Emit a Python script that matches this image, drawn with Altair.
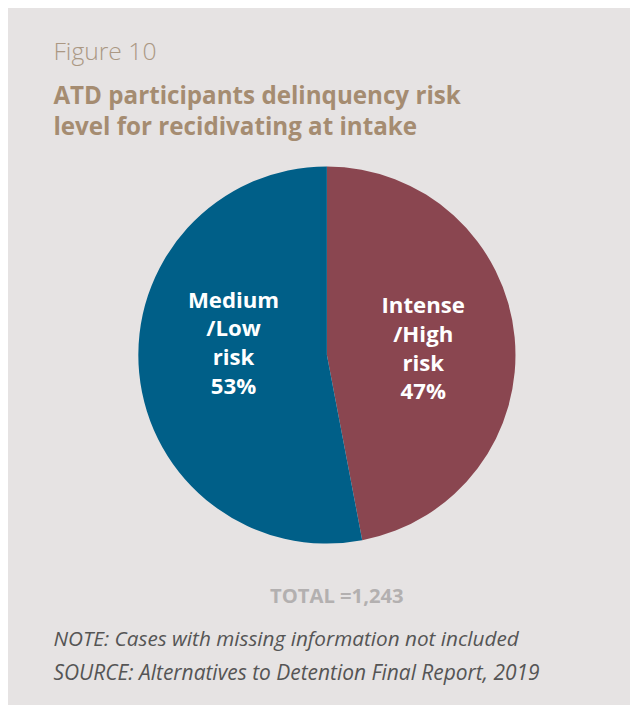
import altair as alt
import pandas as pd

categories = ["Intense/High risk", "Medium/Low risk"]
shares = [47, 53]
labels = ["Intense\n/High\nrisk\n47%", "Medium\n/Low\nrisk\n53%"]
colors = ["#8a4650", "#005f88"]

fig_label = "Figure 10"
title_lines = ["ATD participants delinquency risk", "level for recidivating at intake"]
total_text = "TOTAL =1,243"
note_lines = ["NOTE: Cases with missing information not included",
              "SOURCE: Alternatives to Detention Final Report, 2019"]

df = pd.DataFrame({"category": categories, "share": shares, "label": labels,
                   "order": [0, 1]})

CX, CY, R = 323, 347, 191
FONT = "Open Sans"

base = alt.Chart(df)

pie = base.mark_arc(outerRadius=R, stroke=None).encode(
    theta=alt.Theta("share:Q", stack=True),
    color=alt.Color("category:N", scale=alt.Scale(domain=categories, range=colors), legend=None),
    order=alt.Order("order:Q"),
    x=alt.value(CX), y=alt.value(CY),
)

def slice_text(cat, dx, dy):
    return base.mark_text(
        radius=98, font=FONT, fontSize=22.5, fontWeight="bold", color="white",
        lineBreak="\n", lineHeight=29, align="center", baseline="middle", dx=dx, dy=dy,
    ).encode(
        theta=alt.Theta("share:Q", stack=True),
        order=alt.Order("order:Q"),
        text="label:N",
        x=alt.value(CX), y=alt.value(CY),
        opacity=alt.condition(alt.datum.category == cat, alt.value(1), alt.value(0)),
    )

t_high = slice_text(categories[0], 0, -40)
t_low = slice_text(categories[1], 3, -64)

def static_text(txt, x, y, **kw):
    return alt.Chart(pd.DataFrame({"t": [txt]})).mark_text(font=FONT, baseline="alphabetic", **kw).encode(
        text="t:N", x=alt.value(x), y=alt.value(y))

fig = static_text(fig_label, 46, 48, fontSize=25, fontWeight=300, color="#ab9883", align="left")
t1 = static_text(title_lines[0], 46, 93, fontSize=24.5, fontWeight="bold", color="#a58c71", align="left")
t2 = static_text(title_lines[1], 46, 124, fontSize=24.5, fontWeight="bold", color="#a58c71", align="left")
tot = static_text(total_text, 333, 598, fontSize=20.5, fontWeight="bold", color="#b3b0b0", align="center")
n1 = static_text(note_lines[0], 46, 642, fontSize=21, fontStyle="italic", color="#555555", align="left")
n2 = static_text(note_lines[1], 46, 676, fontSize=21.2, fontStyle="italic", color="#555555", align="left")

chart = alt.layer(pie, t_high, t_low, fig, t1, t2, tot, n1, n2).properties(
    width=630, height=697, padding=0,
    autosize=alt.AutoSizeParams(type="fit", contains="padding"),
    background="#e6e3e3",
).configure_view(stroke=None)

chart.save("out.html", embed_options={"renderer": "svg", "actions": False})
